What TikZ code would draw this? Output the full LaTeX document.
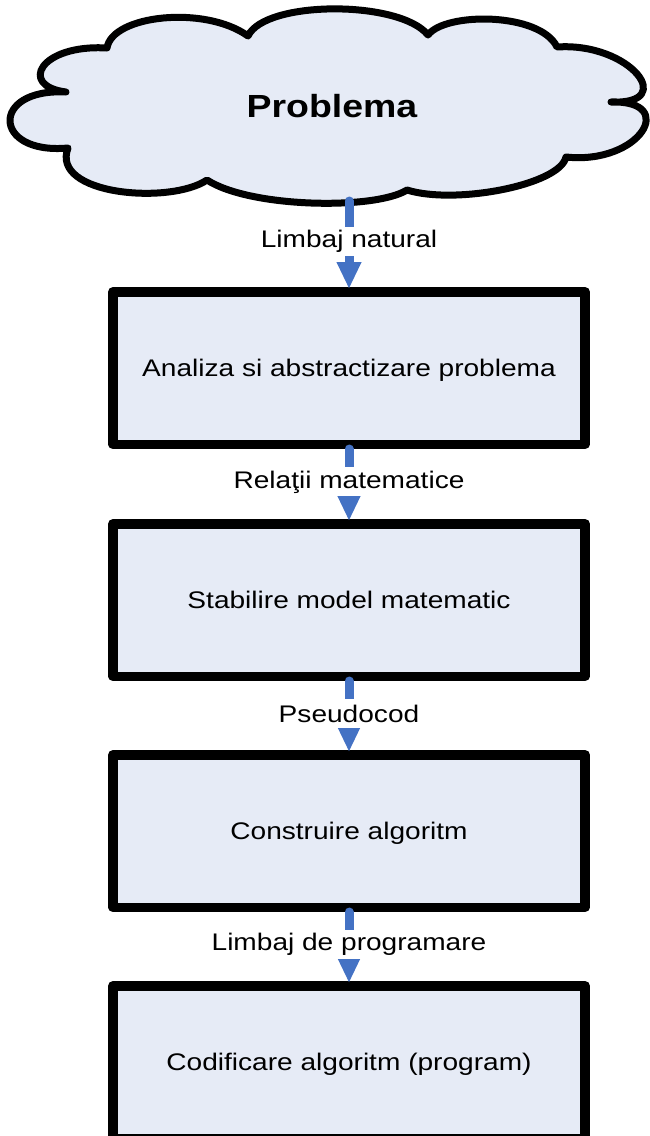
\documentclass[tikz,border=0pt]{standalone}
\usepackage{fontspec}
\setmainfont{Liberation Sans}[FakeStretch=1.17]
\usetikzlibrary{arrows.meta}
\definecolor{boxfill}{RGB}{230,235,246}
\definecolor{flowblue}{RGB}{68,114,196}

\begin{document}
\begin{tikzpicture}[x=1pt,y=-1pt,
  stepbox/.style={draw=black, line width=9.5pt, line join=round, fill=boxfill,
    rectangle, minimum width=472pt, minimum height=152.5pt,
    font=\fontsize{24}{28}\selectfont, text depth=0pt, inner sep=0pt},
  flow/.style={draw=flowblue, line width=9pt, line cap=round,
    -{Triangle[length=27pt,width=23pt]}, shorten >=-2pt},
  flowlabel/.style={fill=white, font=\fontsize{24}{28}\selectfont,
    inner xsep=2pt, inner ysep=0pt, minimum height=29pt, pos=0.47}]

\useasboundingbox (0,0) rectangle (649,1136);

% cloud holding the problem statement
\path[draw=black, line width=7pt, line join=round, fill=boxfill]
  (66,92) .. controls (18,86) and (40,44) .. (107,48)
  .. controls (112,15) and (205,5) .. (248,36)
  .. controls (265,0) and (400,0) .. (428,35)
  .. controls (445,12) and (540,12) .. (557,47)
  .. controls (630,42) and (679,105) .. (611,102)
  .. controls (679,100) and (640,165) .. (566,157)
  .. controls (560,185) and (455,205) .. (407,190)
  .. controls (375,210) and (250,208) .. (207,180)
  .. controls (170,205) and (50,195) .. (68,148)
  .. controls (-8,155) and (-10,88) .. (66,92) -- cycle;
\node[font=\fontsize{32}{38}\selectfont\bfseries] (problem) at (332,106) {Problema};
\coordinate (cloudbase) at (349,201);

% processing steps
\node[stepbox] (b1) at (349,368) {Analiza si abstractizare problema};
\node[stepbox] (b2) at (349,600) {Stabilire model matematic};
\node[stepbox] (b3) at (349,831) {Construire algoritm};
\node[stepbox] (b4) at (349,1062) {Codificare algoritm (program)};

% transitions
\draw[flow] (cloudbase) -- node[flowlabel] {Limbaj natural} (b1.north);
\draw[flow] (b1.south) -- node[flowlabel] {Relaţii matematice} (b2.north);
\draw[flow] (b2.south) -- node[flowlabel] {Pseudocod} (b3.north);
\draw[flow] (b3.south) -- node[flowlabel] {Limbaj de programare} (b4.north);
\end{tikzpicture}
\end{document}
